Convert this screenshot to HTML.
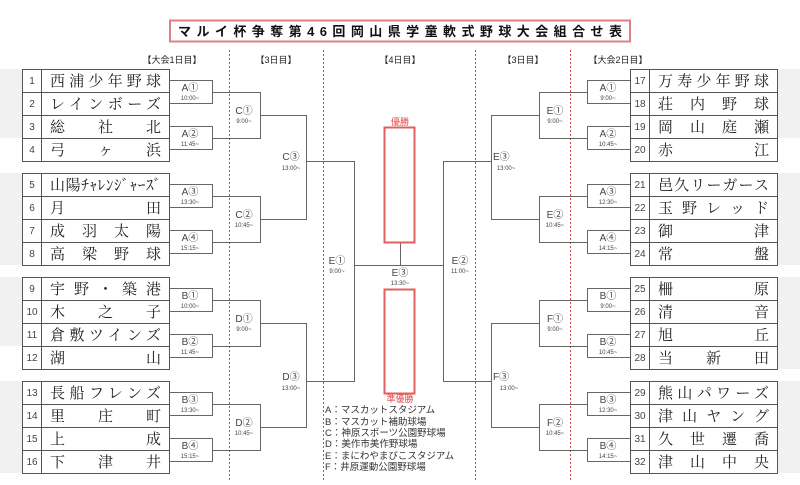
<!DOCTYPE html>
<html><head><meta charset="utf-8"><style>
html,body{margin:0;padding:0;background:#fff;}
svg{display:block;}
.t{font-family:"Liberation Sans","Noto Sans CJK JP",sans-serif;}
.nm{font-family:"Liberation Serif","Noto Serif CJK SC",serif;font-size:15px;fill:#222;}
.no{font-family:"Liberation Sans",sans-serif;font-size:10px;fill:#444;}
.lb{font-family:"Liberation Sans","Noto Sans CJK JP",sans-serif;font-size:10px;fill:#444;}
.tm{font-family:"Liberation Sans",sans-serif;font-size:6px;fill:#444;}
.hd{font-family:"Liberation Sans","Noto Sans CJK JP",sans-serif;font-size:9px;fill:#222;}
.lg{font-family:"Liberation Sans","Noto Sans CJK JP",sans-serif;font-size:9.5px;fill:#333;}
</style></head><body>
<svg width="800" height="485" viewBox="0 0 800 485" xmlns="http://www.w3.org/2000/svg">
<!-- gray shading -->
<g fill="#f1f1f1">
<rect x="0" y="69" width="22" height="69"/><rect x="0" y="173" width="22" height="92"/>
<rect x="0" y="277" width="22" height="69"/><rect x="0" y="381" width="22" height="92"/>
<rect x="777" y="69" width="23" height="69"/><rect x="777" y="173" width="23" height="92"/>
<rect x="777" y="277" width="23" height="92"/><rect x="777" y="381" width="23" height="92"/>
</g>
<!-- title -->
<rect x="170" y="20.5" width="460" height="21" fill="#fff" stroke="#e08080" stroke-width="2"/>
<text x="178" y="36" class="t" font-size="13" font-weight="bold" textLength="444" lengthAdjust="spacing" fill="#111">マルイ杯争奪第46回岡山県学童軟式野球大会組合せ表</text>
<!-- headers -->
<text x="172" y="63" class="hd" text-anchor="middle">【大会1日目】</text>
<text x="276" y="63" class="hd" text-anchor="middle">【3日目】</text>
<text x="400" y="63" class="hd" text-anchor="middle">【4日目】</text>
<text x="523" y="63" class="hd" text-anchor="middle">【3日目】</text>
<text x="618" y="63" class="hd" text-anchor="middle">【大会2日目】</text>
<!-- red dotted lines -->
<g stroke="#d04848" stroke-width="1" stroke-dasharray="2,2">
<line x1="229.5" y1="50" x2="229.5" y2="480"/><line x1="323.5" y1="50" x2="323.5" y2="480"/>
<line x1="475.5" y1="50" x2="475.5" y2="480"/><line x1="570.5" y1="50" x2="570.5" y2="480"/>
</g>
<!-- tables -->
<g fill="none" stroke="#555" stroke-width="1">
<rect x="22.5" y="69.5" width="147" height="92"/><rect x="22.5" y="173.5" width="147" height="92"/>
<rect x="22.5" y="277.5" width="147" height="92"/><rect x="22.5" y="381.5" width="147" height="92"/>
<rect x="630.5" y="69.5" width="147" height="92"/><rect x="630.5" y="173.5" width="147" height="92"/>
<rect x="630.5" y="277.5" width="147" height="92"/><rect x="630.5" y="381.5" width="147" height="92"/>
<path d="M41.5 69V161M41.5 173V265M41.5 277V369M41.5 381V473M649.5 69V161M649.5 173V265M649.5 277V369M649.5 381V473"/>
<path d="M22 92.5H169M22 115.5H169M22 138.5H169M22 196.5H169M22 219.5H169M22 242.5H169M22 300.5H169M22 323.5H169M22 346.5H169M22 404.5H169M22 427.5H169M22 450.5H169"/>
<path d="M630 92.5H777M630 115.5H777M630 138.5H777M630 196.5H777M630 219.5H777M630 242.5H777M630 300.5H777M630 323.5H777M630 346.5H777M630 404.5H777M630 427.5H777M630 450.5H777"/>
</g>
<!-- bracket lines -->
<g fill="none" stroke="#666" stroke-width="1">
<path d="M169 80.5H212.5V103.5H169M212 92.5H260M169 126.5H212.5V149.5H169M212 138.5H260M260.5 92V139M260 115.5H306"/>
<path d="M169 184.5H212.5V207.5H169M212 196.5H260M169 230.5H212.5V253.5H169M212 242.5H260M260.5 196V243M260 219.5H306"/>
<path d="M169 288.5H212.5V311.5H169M212 300.5H260M169 334.5H212.5V357.5H169M212 346.5H260M260.5 300V347M260 323.5H306"/>
<path d="M169 392.5H212.5V415.5H169M212 404.5H260M169 438.5H212.5V461.5H169M212 450.5H260M260.5 404V451M260 427.5H306"/>
<path d="M306.5 115V220M306 161.5H354M306.5 323V428M306 381.5H354M354.5 161V382M354 265.5H443M400.5 243V265"/>
<path d="M630 80.5H587.5V103.5H630M587 92.5H539M630 126.5H587.5V149.5H630M587 138.5H539M539.5 92V139M539 115.5H491"/>
<path d="M630 184.5H587.5V207.5H630M587 196.5H539M630 230.5H587.5V253.5H630M587 242.5H539M539.5 196V243M539 219.5H491"/>
<path d="M630 288.5H587.5V311.5H630M587 300.5H539M630 334.5H587.5V357.5H630M587 346.5H539M539.5 300V347M539 323.5H491"/>
<path d="M630 392.5H587.5V415.5H630M587 404.5H539M630 438.5H587.5V461.5H630M587 450.5H539M539.5 404V451M539 427.5H491"/>
<path d="M491.5 115V220M491 161.5H443M491.5 323V428M491 381.5H443M443.5 161V382"/>
</g>
<!-- winner boxes -->
<rect x="384.5" y="127.5" width="30" height="115" fill="none" stroke="#e06060" stroke-width="2"/>
<rect x="384.5" y="289.5" width="30" height="104" fill="none" stroke="#e06060" stroke-width="2"/>
<text x="400" y="125" class="t" font-size="9" text-anchor="middle" fill="#e04848">優勝</text>
<text x="400" y="402" class="t" font-size="9" text-anchor="middle" fill="#e04848">準優勝</text>
<!-- numbers left -->
<g class="no" text-anchor="middle">
<text x="32" y="84">1</text><text x="32" y="107">2</text><text x="32" y="130">3</text><text x="32" y="153">4</text>
<text x="32" y="188">5</text><text x="32" y="211">6</text><text x="32" y="234">7</text><text x="32" y="257">8</text>
<text x="32" y="292">9</text><text x="32" y="315">10</text><text x="32" y="338">11</text><text x="32" y="361">12</text>
<text x="32" y="396">13</text><text x="32" y="419">14</text><text x="32" y="442">15</text><text x="32" y="465">16</text>
<text x="640" y="84">17</text><text x="640" y="107">18</text><text x="640" y="130">19</text><text x="640" y="153">20</text>
<text x="640" y="188">21</text><text x="640" y="211">22</text><text x="640" y="234">23</text><text x="640" y="257">24</text>
<text x="640" y="292">25</text><text x="640" y="315">26</text><text x="640" y="338">27</text><text x="640" y="361">28</text>
<text x="640" y="396">29</text><text x="640" y="419">30</text><text x="640" y="442">31</text><text x="640" y="465">32</text>
</g>
<!-- names -->
<g class="nm">
<text x="50" y="86" textLength="111" lengthAdjust="spacing">西浦少年野球</text>
<text x="50" y="109" textLength="111" lengthAdjust="spacing">レインボーズ</text>
<text x="50" y="132" textLength="111" lengthAdjust="spacing">総社北</text>
<text x="50" y="155" textLength="111" lengthAdjust="spacing">弓ヶ浜</text>
<text x="50" y="190" textLength="111" lengthAdjust="spacing">山陽ﾁｬﾚﾝｼﾞｬｰｽﾞ</text>
<text x="50" y="213" textLength="111" lengthAdjust="spacing">月田</text>
<text x="50" y="236" textLength="111" lengthAdjust="spacing">成羽太陽</text>
<text x="50" y="259" textLength="111" lengthAdjust="spacing">高梁野球</text>
<text x="50" y="294" textLength="111" lengthAdjust="spacing">宇野・築港</text>
<text x="50" y="317" textLength="111" lengthAdjust="spacing">木之子</text>
<text x="50" y="340" textLength="111" lengthAdjust="spacing">倉敷ツインズ</text>
<text x="50" y="363" textLength="111" lengthAdjust="spacing">湖山</text>
<text x="50" y="398" textLength="111" lengthAdjust="spacing">長船フレンズ</text>
<text x="50" y="421" textLength="111" lengthAdjust="spacing">里庄町</text>
<text x="50" y="444" textLength="111" lengthAdjust="spacing">上成</text>
<text x="50" y="467" textLength="111" lengthAdjust="spacing">下津井</text>
<text x="658" y="86" textLength="111" lengthAdjust="spacing">万寿少年野球</text>
<text x="658" y="109" textLength="111" lengthAdjust="spacing">荘内野球</text>
<text x="658" y="132" textLength="111" lengthAdjust="spacing">岡山庭瀬</text>
<text x="658" y="155" textLength="111" lengthAdjust="spacing">赤江</text>
<text x="658" y="190" textLength="111" lengthAdjust="spacing">邑久リーガース</text>
<text x="658" y="213" textLength="111" lengthAdjust="spacing">玉野レッド</text>
<text x="658" y="236" textLength="111" lengthAdjust="spacing">御津</text>
<text x="658" y="259" textLength="111" lengthAdjust="spacing">常盤</text>
<text x="658" y="294" textLength="111" lengthAdjust="spacing">柵原</text>
<text x="658" y="317" textLength="111" lengthAdjust="spacing">清音</text>
<text x="658" y="340" textLength="111" lengthAdjust="spacing">旭丘</text>
<text x="658" y="363" textLength="111" lengthAdjust="spacing">当新田</text>
<text x="658" y="398" textLength="111" lengthAdjust="spacing">熊山パワーズ</text>
<text x="658" y="421" textLength="111" lengthAdjust="spacing">津山ヤング</text>
<text x="658" y="444" textLength="111" lengthAdjust="spacing">久世遷喬</text>
<text x="658" y="467" textLength="111" lengthAdjust="spacing">津山中央</text>
</g>
<!-- match labels -->
<g class="lb" text-anchor="middle">
<text x="190" y="91">A①</text><text x="190" y="137">A②</text><text x="190" y="195">A③</text><text x="190" y="241">A④</text>
<text x="190" y="299">B①</text><text x="190" y="345">B②</text><text x="190" y="403">B③</text><text x="190" y="449">B④</text>
<text x="244" y="114">C①</text><text x="244" y="218">C②</text><text x="244" y="322">D①</text><text x="244" y="426">D②</text>
<text x="291" y="160">C③</text><text x="291" y="380">D③</text><text x="337" y="264">E①</text><text x="400" y="276">E③</text>
<text x="608" y="91">A①</text><text x="608" y="137">A②</text><text x="608" y="195">A③</text><text x="608" y="241">A④</text>
<text x="608" y="299">B①</text><text x="608" y="345">B②</text><text x="608" y="403">B③</text><text x="608" y="449">B④</text>
<text x="555" y="114">E①</text><text x="555" y="218">E②</text><text x="555" y="322">F①</text><text x="555" y="426">F②</text>
<text x="460" y="264">E②</text>
</g>
<g class="lb"><text x="493" y="160">E③</text><text x="493" y="380">F③</text></g>
<g class="tm" text-anchor="middle">
<text x="190" y="100">10:00~</text><text x="190" y="146">11:45~</text><text x="190" y="204">13:30~</text><text x="190" y="250">15:15~</text>
<text x="190" y="308">10:00~</text><text x="190" y="354">11:45~</text><text x="190" y="412">13:30~</text><text x="190" y="458">15:15~</text>
<text x="244" y="123">9:00~</text><text x="244" y="227">10:45~</text><text x="244" y="331">9:00~</text><text x="244" y="435">10:45~</text>
<text x="291" y="170">13:00~</text><text x="291" y="390">13:00~</text><text x="337" y="273">9:00~</text><text x="400" y="285">13:30~</text>
<text x="608" y="100">9:00~</text><text x="608" y="146">10:45~</text><text x="608" y="204">12:30~</text><text x="608" y="250">14:15~</text>
<text x="608" y="308">9:00~</text><text x="608" y="354">10:45~</text><text x="608" y="412">12:30~</text><text x="608" y="458">14:15~</text>
<text x="555" y="123">9:00~</text><text x="555" y="227">10:45~</text><text x="555" y="331">9:00~</text><text x="555" y="435">10:45~</text>
<text x="460" y="273">11:00~</text><text x="506" y="170">13:00~</text><text x="509" y="390">13:00~</text>
</g>
<!-- legend -->
<g class="lg">
<text x="325" y="413">A：マスカットスタジアム</text>
<text x="325" y="425">B：マスカット補助球場</text>
<text x="325" y="436">C：神原スポーツ公園野球場</text>
<text x="325" y="447">D：美作市美作野球場</text>
<text x="325" y="459">E：まにわやまびこスタジアム</text>
<text x="325" y="470">F：井原運動公園野球場</text>
</g>
</svg>
</body></html>
